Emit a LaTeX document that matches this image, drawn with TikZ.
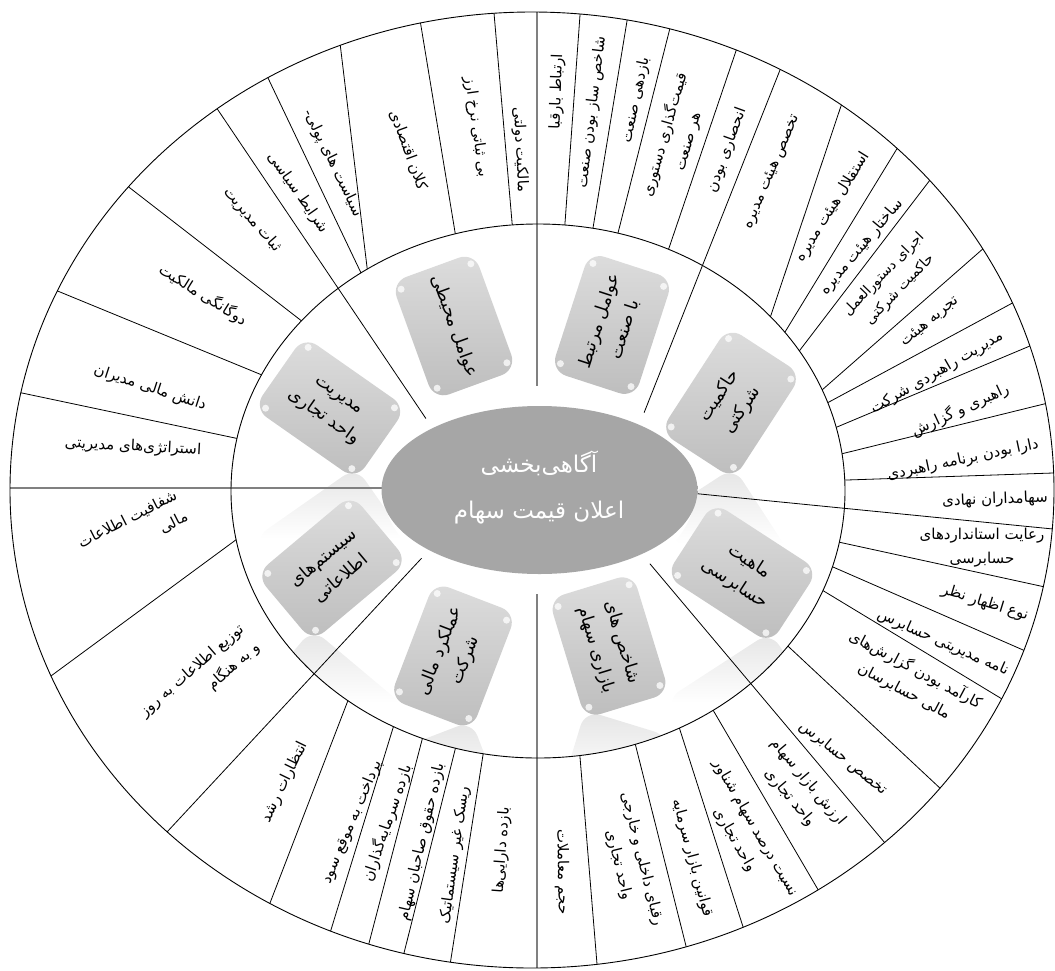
\documentclass[tikz,border=0pt]{standalone}
\usepackage{fontspec}
\newfontfamily\fa[Script=Arabic]{DejaVu Sans}
\TeXXeTstate=1
\usetikzlibrary{calc}
\definecolor{boxtop}{HTML}{DDDDDD}
\definecolor{boxbot}{HTML}{BDBDBD}
\definecolor{cmid}{HTML}{A6A6A6}
\definecolor{clight}{HTML}{C4C4C4}
\definecolor{crim}{HTML}{E4E4E4}
\definecolor{lgray}{HTML}{808080}
\definecolor{reflc}{HTML}{CACACA}
\pgfdeclareradialshading{cshade}{\pgfpointorigin}{color(0bp)=(cmid); color(38bp)=(cmid); color(45bp)=(clight); color(48.5bp)=(crim); color(50bp)=(white)}
\pgfdeclareverticalshading{reflshade}{100bp}{color(0bp)=(white); color(50bp)=(white); color(100bp)=(reflc)}
\newcommand{\faR}[1]{\beginR #1\endR}
\tikzset{
  ring/.style={font=\fa\fontsize{15}{24}\selectfont, inner sep=0pt, align=center},
  ringsmall/.style={ring, font=\fa\fontsize{14}{22}\selectfont},
  ringR/.style={ring, align=right},
  boxn/.style={rounded corners=16pt, minimum width=125pt, minimum height=88pt,
    top color=boxtop, bottom color=boxbot, draw=none,
    font=\fa\fontsize{17.5}{27}\selectfont, align=center, inner sep=2pt},
  mainl/.style={draw=lgray, line width=1.4pt, shorten <=-12pt},
  mainb/.style={draw=black, line width=0.8pt, shorten <=-12pt},
  seg/.style={draw=black, line width=0.8pt, shorten <=-12pt, shorten >=-12pt},
  glint/.style={fill=white, opacity=0.75},
}
\begin{document}
\begin{tikzpicture}[x=1pt,y=-1pt]
\useasboundingbox (0,0) rectangle (1055,970);
\coordinate (oc) at (532,490);
\coordinate (ic) at (538,491);
\coordinate (cc) at (539.5,490);

% reflections of the boxes
\begin{scope}
  \clip (ic) ellipse [x radius=307, y radius=267];
  \foreach \x/\y/\r in {731/543.6/-57, 742/702.8/33, 609/783/73, 453/795/-69, 332/702.7/-40, 330/539/35}
    \path[shading=reflshade, rounded corners=16pt, shift={(\x,\y)}, rotate=\r] (-62.5,-44) rectangle (62.5,44);
\end{scope}

% ring dividing lines
\begin{scope}[even odd rule]
  \clip (oc) ellipse [x radius=522, y radius=478] (ic) ellipse [x radius=307, y radius=267];
  % upper left
  \draw[seg] (22,393) -- (235,438);
  \draw[seg] (60,292) -- (262,375);
  \draw[seg] (130,188) -- (303,322);
  % top left
  \draw[seg] (268,78) -- (362,275);
  \draw[seg] (340,43) -- (367,267);
  \draw[seg] (421,26) -- (455,232);
  \draw[seg] (494,13) -- (512,222);
  % top right
  \draw[seg] (580,15) -- (565,223);
  \draw[seg] (627,21) -- (593,228);
  \draw[seg] (670,28) -- (618,233);
  \draw[seg] (737,48) -- (670,245);
  % right upper
  \draw[seg] (842,103) -- (770,318);
  \draw[seg] (898,147) -- (785,332);
  \draw[seg] (930,180) -- (800,350);
  \draw[seg] (985,247) -- (822,390);
  \draw[seg] (1018,300) -- (829,402);
  \draw[seg] (1037,343) -- (837,427);
  \draw[seg] (1048,403) -- (845,453);
  \draw[seg] (1053,473) -- (847,480);
  % right lower
  \draw[seg] (1045,587) -- (843,543);
  \draw[seg] (1030,653) -- (833,567);
  \draw[seg] (1007,702) -- (822,590);
  \draw[seg] (942,790) -- (790,648);
  % bottom right
  \draw[seg] (820,893) -- (713,710);
  \draw[seg] (745,933) -- (680,730);
  \draw[seg] (687,950) -- (635,743);
  \draw[seg] (597,964) -- (580,757);
  % bottom left
  \draw[seg] (450,965) -- (483,755);
  \draw[seg] (403,957) -- (455,750);
  \draw[seg] (368,947) -- (422,740);
  \draw[seg] (330,933) -- (393,728);
  \draw[seg] (270,903) -- (347,703);
  % left lower
  \draw[seg] (55,673) -- (233,542);
\end{scope}

% main dividing lines
\begin{scope}
  \clip (oc) ellipse [x radius=522, y radius=478];
  \draw[mainl] (537,12) -- (537,400);
  \draw[mainl] (537,968) -- (537,580);
  \draw[mainl] (11,488) -- (400,488);
  \draw[mainb] (1053,529) -- (680,492);
  \draw[mainb] (218,110) -- (435,432);
  \draw[mainb] (780,70) -- (638,428);
  \draw[mainb] (167,832) -- (432,547);
  \draw[mainb] (885,843) -- (640,552);
\end{scope}

% circles
\draw[line width=0.9pt] (oc) ellipse [x radius=522, y radius=478];
\draw[line width=0.9pt] (ic) ellipse [x radius=307, y radius=267];

% halo
\fill[white] (cc) ellipse [x radius=156, y radius=104];

% boxes
\node[boxn, rotate=-70] (bA) at (454,326) {\faR{عوامل محیطی}};
\node[boxn, rotate=72]  (bB) at (612,325) {\faR{عوامل مرتبط}\\\faR{با صنعت}};
\node[boxn, rotate=57]  (bC) at (731,403) {\faR{حاکمیت}\\\faR{شرکتی}};
\node[boxn, rotate=-33] (bD) at (742,573) {\faR{ماهیت}\\\faR{حسابرسی}};
\node[boxn, rotate=-73] (bE) at (609,646) {\faR{شاخص های}\\\faR{بازاری سهام}};
\node[boxn, rotate=69]  (bF) at (453,656) {\faR{عملکرد مالی}\\\faR{شرکت}};
\node[boxn, rotate=40]  (bG) at (332,568) {\faR{سیستم‌های}\\\faR{اطلاعاتی}};
\node[boxn, rotate=-35] (bH) at (330,408) {\faR{مدیریت}\\\faR{واحد تجاری}};
\foreach \b in {bA,bB,bC,bD,bE,bF,bG,bH}
  \foreach \a in {north east,north west,south east,south west}
    \fill[glint] ($(\b.\a)!0.16!(\b.center)$) circle (3.5);

% central ellipse
\path[shading=cshade] (cc) ellipse [x radius=158, y radius=84];
\node[font=\fa\fontsize{23}{46}\selectfont, text=white, align=center] (ctr) at (539,487)
  {\faR{آگاهی‌بخشی}\\\faR{اعلان قیمت سهام}};

% ring texts: top left
\node[ring, rotate=-55] (t37) at (298,193) {\faR{شرایط سیاسی}};
\node[ring, rotate=-64] (t38) at (333,163) {\faR{سیاست های پولی-}};
\node[ring, rotate=-70] (t39) at (408,150) {\faR{کلان اقتصادی}};
\node[ring, rotate=-82] (t40) at (476,127) {\faR{بی ثباتی نرخ ارز}};
\node[ring, rotate=-87] (t41) at (520,150) {\faR{مالکیت دولتی}};
% top right
\node[ring, rotate=88] (t1) at (557,92) {\faR{ارتباط بارقبا}};
\node[ring, rotate=83] (t2) at (592,112) {\faR{شاخص ساز بودن صنعت}};
\node[ring, rotate=78] (t3) at (636,100) {\faR{بازدهی صنعت}};
\node[ring, rotate=74] (t4) at (676,138) {\faR{قیمت‌گذاری دستوری}\\\faR{هر صنعت}};
\node[ring, rotate=70] (t5) at (727,150) {\faR{انحصاری بودن}};
% right upper
\node[ring, rotate=67] (t6) at (772,172) {\faR{تخصص هیئت مدیره}};
\node[ring, rotate=58] (t7) at (833,207) {\faR{استقلال هیئت مدیره}};
\node[ring, rotate=50] (t8) at (862,247) {\faR{ساختار هیئت مدیره}};
\node[ringsmall, rotate=46] (t9) at (892,282) {\faR{اجرای دستورالعمل}\\\faR{حاکمیت شرکتی}};
\node[ring, rotate=40] (t10) at (930,322) {\faR{تجربه هیئت}};
\node[ring, rotate=30] (t11) at (937,373) {\faR{مدیریت راهبردی شرکت}};
\node[ring, rotate=25] (t12) at (960,410) {\faR{راهبری و گزارش}};
\node[ring, rotate=12] (t13) at (963,460) {\faR{دارا بودن برنامه راهبردی}};
\node[ring, rotate=2] (t14) at (995,500) {\faR{سهامداران نهادی}};
% right lower
\node[ring, rotate=0] (t15) at (982,548) {\faR{رعایت استانداردهای}\\\faR{حسابرسی}};
\node[ring, rotate=-17] (t16) at (985,603) {\faR{نوع اظهار نظر}};
\node[ring, rotate=-24] (t17) at (943,643) {\faR{نامه مدیریتی حسابرس}};
\node[ring, rotate=-28] (t18) at (910,680) {\faR{کارآمد بودن گزارش‌های}\\\faR{مالی حسابرسان}};
\node[ring, rotate=-39] (t19) at (843,758) {\faR{تخصص حسابرس}};
% bottom right
\node[ring, rotate=-50] (t20) at (799,790) {\faR{ارزش بازار سهام}\\\faR{واحد تجاری}};
\node[ring, rotate=-60] (t21) at (745,834) {\faR{نسبت درصد سهام شناور}\\\faR{واحد تجاری}};
\node[ring, rotate=-75] (t22) at (692,858) {\faR{قوانین بازار سرمایه}};
\node[ring, rotate=-76] (t23) at (630,862) {\faR{رقبای داخلی و خارجی}\\\faR{واحد تجاری}};
\node[ring, rotate=-89] (t24) at (562,872) {\faR{حجم معاملات}};
% bottom left
\node[ring, rotate=86] (t25) at (502,850) {\faR{بازده دارایی‌ها}};
\node[ring, rotate=82] (t26) at (455,855) {\faR{ریسک غیر سیستماتیک}};
\node[ring, rotate=77] (t27) at (422,842) {\faR{بازده حقوق صاحبان سهام}};
\node[ring, rotate=71] (t28) at (387,823) {\faR{بازده سرمایه‌گذاران}};
\node[ring, rotate=67] (t29) at (352,822) {\faR{پرداخت به موقع سود}};
\node[ring, rotate=64] (t30) at (285,782) {\faR{انتظارات رشد}};
% left
\node[ringR, rotate=41] (t31) at (200,680) {\faR{توزیع اطلاعات به روز}\\\faR{و به هنگام}};
\node[ringR, rotate=27] (t32) at (133,530) {\faR{شفافیت اطلاعات}\\\faR{مالی}};
\node[ring, rotate=-3] (t33) at (133,447) {\faR{استراتژی‌های مدیریتی}};
\node[ring, rotate=-18] (t34) at (150,388) {\faR{دانش مالی مدیران}};
\node[ring, rotate=-32] (t35) at (203,295) {\faR{دوگانگی مالکیت}};
\node[ring, rotate=-49] (t36) at (252,220) {\faR{ثبات مدیریت}};
\end{tikzpicture}
\end{document}
